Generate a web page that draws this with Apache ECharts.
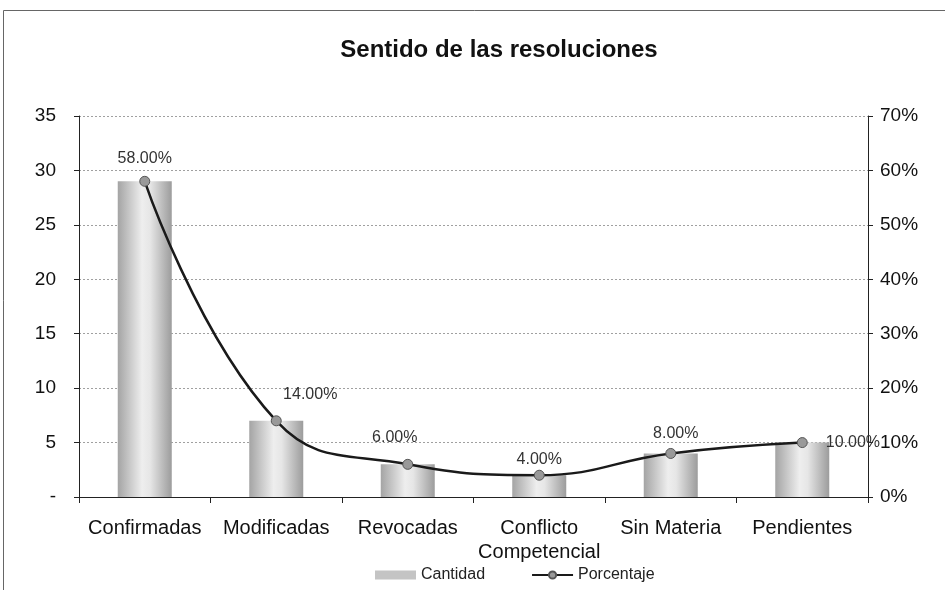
<!DOCTYPE html>
<html><head><meta charset="utf-8">
<script src="https://cdn.jsdelivr.net/npm/echarts@6/dist/echarts.min.js"></script>
<style>html,body{margin:0;padding:0;background:#fff}#c{width:945px;height:590px}</style>
</head><body><div id="c"></div>
<script>
const categories = ['Confirmadas','Modificadas','Revocadas','Conflicto\nCompetencial','Sin Materia','Pendientes'];
const cantidad = [29, 7, 3, 2, 4, 5];
const porcentaje = [58, 14, 6, 4, 8, 10];
const leftTicks = [0,5,10,15,20,25,30,35];
const rightTicks = [0,10,20,30,40,50,60,70];

const labelPlacement = [
  {position:'top', offset:[0,-1]},
  {position:'top', offset:[34,-5]},
  {position:'top', offset:[-13,-5]},
  {position:'top', offset:[0,6]},
  {position:'top', offset:[5,2]},
  {position:'right', offset:[10,0]}
];

const chart = echarts.init(document.getElementById('c'));
const barGrad = new echarts.graphic.LinearGradient(0,0,1,0,[
  {offset:0,color:'#a4a4a4'},{offset:0.45,color:'#eeeeee'},{offset:0.6,color:'#e6e6e6'},{offset:1,color:'#9c9c9c'}]);
const font = 'Arial, "Liberation Sans", sans-serif';
chart.setOption({
  animation:false,
  textStyle:{fontFamily:font},
  graphic:[{type:'rect',shape:{x:3.5,y:10.5,width:1000,height:1000},style:{fill:'none',stroke:'#666',lineWidth:1}}],
  title:{text:'Sentido de las resoluciones',left:494,textAlign:'center',top:33,textStyle:{fontFamily:font,fontSize:24,fontWeight:'bold',color:'#111'}},
  grid:{left:79,right:77,top:116,bottom:93},
  legend:{top:562,left:370,itemGap:46,textStyle:{fontSize:16,color:'#222'},
    data:[{name:'Cantidad',icon:'rect',itemStyle:{color:'#c4c4c4'}},{name:'Porcentaje'}],itemWidth:41,itemHeight:9},
  xAxis:{type:'category',data:categories,
    axisLine:{lineStyle:{color:'#222',width:1}},
    axisTick:{show:true,interval:0,alignWithLabel:false,length:6,lineStyle:{color:'#222'}},
    axisLabel:{interval:0,hideOverlap:false,fontSize:20,color:'#111',margin:19,lineHeight:24}},
  yAxis:[
    {type:'value',min:0,max:35,interval:5,
     axisLine:{show:true,lineStyle:{color:'#222'}},axisTick:{show:true,length:5,lineStyle:{color:'#222'}},
     axisLabel:{fontSize:19,color:'#111',margin:23,formatter:v=>v===0?'-':String(v)},
     splitLine:{show:true,lineStyle:{color:'#a0a0a0',type:[2,2],width:1}}},
    {type:'value',min:0,max:70,interval:10,
     axisLine:{show:true,lineStyle:{color:'#222'}},axisTick:{show:true,length:5,lineStyle:{color:'#222'}},
     axisLabel:{fontSize:19,color:'#111',margin:12,formatter:v=>v+'%'},
     splitLine:{show:false}}
  ],
  series:[
    {name:'Cantidad',type:'bar',data:cantidad,barWidth:54,itemStyle:{color:barGrad},yAxisIndex:0},
    {name:'Porcentaje',type:'line',yAxisIndex:1,smooth:0.45,
     data:porcentaje.map((v,i)=>({value:v,label:labelPlacement[i]})),
     lineStyle:{color:'#1a1a1a',width:2.5},itemStyle:{color:'#999',borderColor:'#555',borderWidth:1},
     symbol:'circle',symbolSize:10,
     label:{show:true,fontSize:16,color:'#333',distance:8,formatter:p=>p.value.toFixed(2)+'%'}}
  ]
});
</script></body></html>
